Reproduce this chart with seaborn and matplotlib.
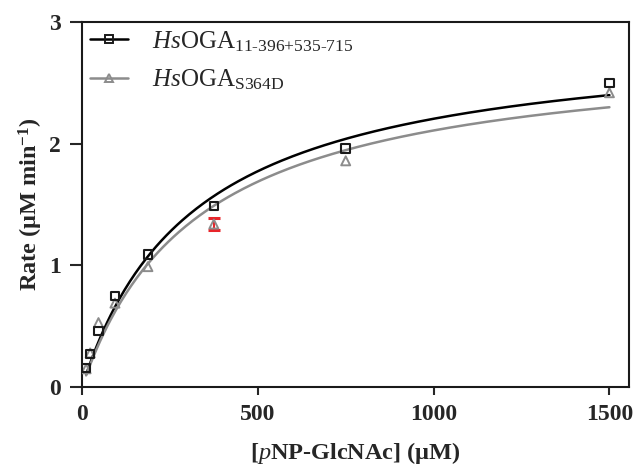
import numpy as np
import pandas as pd
import matplotlib
matplotlib.use("Agg")
import matplotlib.pyplot as plt
from matplotlib.lines import Line2D
import seaborn as sns

# Substrate concentrations (uM) and measured initial rates (uM/min)
substrate = [11.7, 23.4, 46.9, 93.75, 187.5, 375, 750, 1500]
rate_wt = [0.157, 0.27, 0.46, 0.75, 1.09, 1.49, 1.96, 2.50]
rate_s364d = [0.15, 0.28, 0.53, 0.69, 0.99, 1.34, 1.86, 2.42]
err_s364d_375 = 0.05

# Michaelis-Menten fit parameters (Vmax in uM/min, Km in uM)
fit_wt = {"vmax": 2.914, "km": 321.0}
fit_s364d = {"vmax": 2.81, "km": 332.0}

x_ticks = [0, 500, 1000, 1500]
y_ticks = [0, 1, 2, 3]

sns.set_style("ticks")
plt.rcParams["font.family"] = ["Liberation Serif", "DejaVu Serif"]
plt.rcParams["mathtext.fontset"] = "custom"
plt.rcParams["mathtext.rm"] = "Liberation Serif"
plt.rcParams["mathtext.it"] = "Liberation Serif:italic"
plt.rcParams["mathtext.bf"] = "Liberation Serif:bold"

fig = plt.figure(figsize=(6.38, 4.72), dpi=100)
ax = fig.add_axes([0.1285, 0.180, 0.857, 0.773])

s_grid = np.linspace(substrate[0], substrate[-1], 300)
curves = pd.DataFrame({
    "S": np.concatenate([s_grid, s_grid]),
    "v": np.concatenate([
        fit_wt["vmax"] * s_grid / (fit_wt["km"] + s_grid),
        fit_s364d["vmax"] * s_grid / (fit_s364d["km"] + s_grid),
    ]),
    "enzyme": ["wt"] * len(s_grid) + ["s364d"] * len(s_grid),
})

gray = "#8c8c8c"
sns.lineplot(data=curves[curves.enzyme == "wt"], x="S", y="v", color="black",
             lw=1.8, ax=ax, legend=False)
sns.lineplot(data=curves[curves.enzyme == "s364d"], x="S", y="v", color=gray,
             lw=1.8, ax=ax, legend=False)

pts = pd.DataFrame({"S": substrate, "wt": rate_wt, "s364d": rate_s364d})
ax.errorbar([375], [rate_s364d[5]], yerr=[err_s364d_375], fmt="none",
            ecolor="#e8252a", elinewidth=1.5, capsize=4, capthick=2.2, zorder=3)
sns.scatterplot(data=pts, x="S", y="s364d", marker="^", s=42,
                facecolor="none", edgecolor=gray, linewidth=1.4, ax=ax, zorder=4)
sns.scatterplot(data=pts, x="S", y="wt", marker="s", s=38,
                facecolor="none", edgecolor="#1a1a1a", linewidth=1.5, ax=ax, zorder=5)

ax.set_xlim(0, 1555)
ax.set_ylim(0, 3)
ax.set_xticks(x_ticks)
ax.set_yticks(y_ticks)
ax.tick_params(axis="both", direction="out", width=1.5, labelsize=17, pad=6)
ax.tick_params(axis="y", length=9)
ax.tick_params(axis="x", length=6)
for lbl in ax.get_xticklabels() + ax.get_yticklabels():
    lbl.set_fontweight("bold")
for side in ["left", "bottom", "top", "right"]:
    ax.spines[side].set_visible(True)
    ax.spines[side].set_linewidth(1.5)
    ax.spines[side].set_color("#1a1a1a")

ax.set_xlabel(r"[$\mathbf{\mathit{p}}$NP-GlcNAc] (μM)", fontsize=17.5,
              fontweight="bold", labelpad=11)
ax.set_ylabel(r"Rate (μM min$^{\mathbf{-1}}$)", fontsize=17.5,
              fontweight="bold", labelpad=3)

handles = [
    Line2D([0], [0], color="black", lw=1.8, marker="s", ms=6,
           mfc="none", mec="#1a1a1a", mew=1.4),
    Line2D([0], [0], color=gray, lw=1.8, marker="^", ms=6,
           mfc="none", mec=gray, mew=1.4),
]
labels = [r"$\mathit{Hs}$OGA$_{\mathrm{11\text{-}396\text{+}535\text{-}715}}$",
          r"$\mathit{Hs}$OGA$_{\mathrm{S364D}}$"]
ax.legend(handles, labels, loc="upper left", frameon=False, fontsize=18,
          handlelength=1.55, handletextpad=0.95, borderaxespad=0.0,
          borderpad=0.2, labelspacing=0.55, bbox_to_anchor=(0.005, 0.995))

fig.savefig("out.png", dpi=100)
